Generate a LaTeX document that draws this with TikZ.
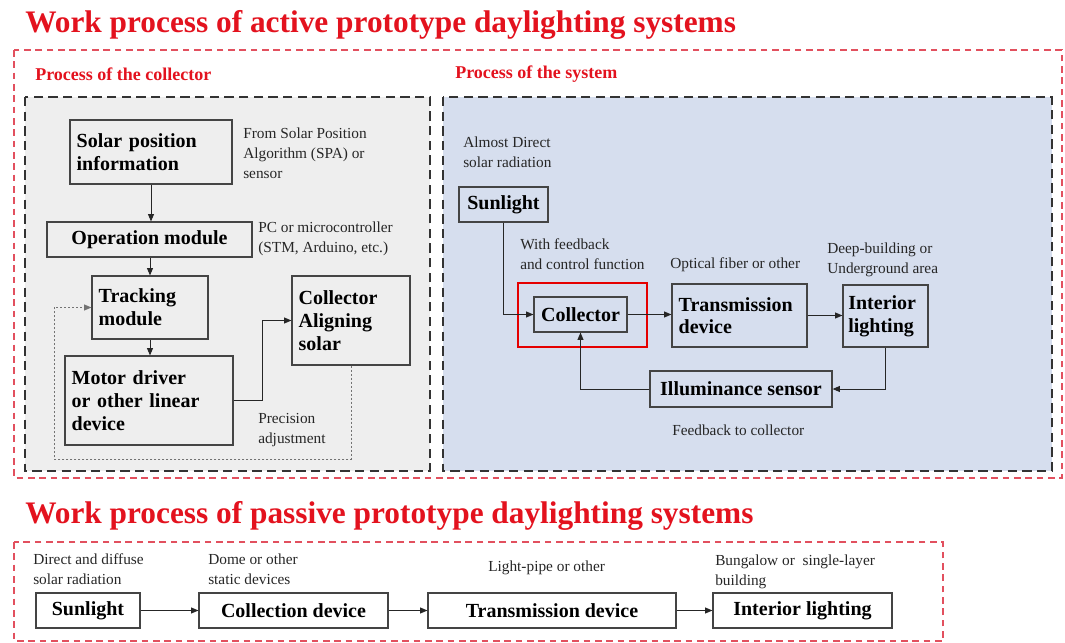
\documentclass[tikz,border=0pt]{standalone}
\usepackage{fontspec}
\setmainfont{Liberation Serif}
\usetikzlibrary{arrows.meta}
\definecolor{titlered}{HTML}{E3121E}
\definecolor{framered}{HTML}{E2505E}
\definecolor{grayfill}{HTML}{EEEEEE}
\definecolor{bluefill}{HTML}{D6DEEE}
\definecolor{boxline}{HTML}{444444}
\tikzset{
  bx/.style={draw=boxline, line width=0.9pt, font=\fontsize{15}{17}\selectfont\bfseries, inner sep=5pt},
  note/.style={anchor=west, align=left, inner sep=0pt, font=\fontsize{11.5}{15}\selectfont, text=black!85},
  arr/.style={-{Triangle[length=5.5pt,width=4.5pt]}, line width=0.7pt, draw=black!85},
  ttl/.style={anchor=west, inner sep=0pt, text=titlered, font=\fontsize{23.5}{26}\selectfont\bfseries},
  sub/.style={anchor=west, inner sep=0pt, text=titlered, font=\fontsize{13.5}{16}\selectfont\bfseries},
  redframe/.style={draw=framered, line width=1.1pt, dash pattern=on 5pt off 3.5pt},
  blackframe/.style={draw=black!80, line width=1.4pt, dash pattern=on 7pt off 4pt},
}
\begin{document}
\begin{tikzpicture}[x=0.75pt,y=-0.75pt]
\useasboundingbox (0,0) rectangle (1065,643);
% titles
\node[ttl] (t1) at (25,25) {Work process of active prototype daylighting systems};
\node[ttl] (t2) at (25,516) {Work process of passive prototype daylighting systems};
% frames
\draw[redframe] (14,50) rectangle (1062,478);
\draw[blackframe, fill=grayfill] (25,97) rectangle (430,471);
\draw[blackframe, fill=bluefill] (443,97) rectangle (1052,471);
\draw[redframe] (14,542) rectangle (943,641);
\node[sub] (s1) at (35,74) {Process of the collector};
\node[sub] (s2) at (455,74) {Process of the system};
% left boxes
\node[bx, minimum width=121.5pt, minimum height=48pt, text width=111.5pt, align=left] (solar) at (151,152) {Solar position\\information};
\node[bx, minimum width=153.75pt, minimum height=26.25pt, inner sep=2pt] (op) at (149.5,239.5) {Operation module};
\node[bx, minimum width=87pt, minimum height=47.25pt, text width=77pt, align=left] (track) at (150,307.5) {Tracking\\module};
\node[bx, minimum width=126pt, minimum height=66.75pt, text width=116pt, align=left] (motor) at (149,400.5) {Motor driver\\or other linear\\device};
\node[bx, minimum width=88.5pt, minimum height=66.75pt, text width=78.5pt, align=left] (calign) at (351,320.5) {Collector\\Aligning\\solar};
\node[note] (n1) at (243,153) {From Solar Position\\Algorithm (SPA) or\\sensor};
\node[note] (n2) at (258,238.5) {PC or microcontroller\\(STM, Arduino, etc.)};
\node[note] (n3) at (258,430) {Precision\\adjustment};
\draw[arr] (solar.south) -- (solar.south |- op.north);
\draw[arr] (track.north |- op.south) -- (track.north);
\draw[arr] (track.south) -- (track.south |- motor.north);
\draw[arr] (motor.east) -- ++(29,0) |- (calign.west);
\coordinate (dpb) at (54,459);
\draw[arr, draw=black!55, dash pattern=on 1.5pt off 1.5pt] (calign.south) |- (dpb) |- (track.west);
% right boxes
\node[bx, minimum width=66.75pt, minimum height=26.25pt, inner sep=2pt] (sunR) at (503.5,204.5) {Sunlight};
\coordinate (rb1) at (518,283);
\coordinate (rb2) at (647,347);
\draw[draw=red!90!black, line width=1.5pt] (rb1) rectangle (rb2);
\node[bx, minimum width=69.75pt, minimum height=26.25pt, inner sep=2pt] (coll) at (580.5,314.5) {Collector};
\node[bx, minimum width=101.25pt, minimum height=47.25pt, text width=91.25pt, align=left] (trans) at (739.5,315.5) {Transmission\\device};
\node[bx, minimum width=63.75pt, minimum height=46.5pt, text width=55.75pt, align=left, inner sep=4pt] (inter) at (885.5,316) {Interior\\lighting};
\node[bx, minimum width=136.5pt, minimum height=27pt, inner sep=2pt] (illum) at (741,389) {Illuminance sensor};
\node[note] (n4) at (463,152.5) {Almost Direct\\solar radiation};
\node[note] (n5) at (520,254) {With feedback\\and control function};
\node[note] (n6) at (670,265) {Optical fiber or other};
\node[note] (n7) at (827,259.5) {Deep-building or\\Underground area};
\node[note] (n8) at (672,430) {Feedback to collector};
\draw[arr] (sunR.south) |- (coll.west);
\draw[arr] (coll.east) -- (coll.east -| trans.west);
\draw[arr] (trans.east) -- (trans.east -| inter.west);
\draw[arr] (inter.south) |- (illum.east);
\draw[arr] (illum.west) -| (coll.south);
% bottom row
\node[bx, minimum width=78pt, minimum height=26.25pt, inner sep=2pt] (b1) at (88,610.5) {Sunlight};
\node[bx, minimum width=141.75pt, minimum height=26.25pt, inner sep=2pt] (b2) at (293.5,610.5) {Collection device};
\node[bx, minimum width=186pt, minimum height=26.25pt, inner sep=2pt] (b3) at (552,610.5) {Transmission device};
\node[bx, minimum width=134.25pt, minimum height=26.25pt, inner sep=2pt] (b4) at (802.5,610.5) {Interior lighting};
\node[note] (m1) at (33,569) {Direct and diffuse\\solar radiation};
\node[note] (m2) at (208,569) {Dome or other\\static devices};
\node[note] (m3) at (488,568) {Light-pipe or other};
\node[note] (m4) at (715,572) {Bungalow or\ \ single-layer\\building};
\draw[arr] (b1) -- (b2);
\draw[arr] (b2) -- (b3);
\draw[arr] (b3) -- (b4);
\end{tikzpicture}
\end{document}
